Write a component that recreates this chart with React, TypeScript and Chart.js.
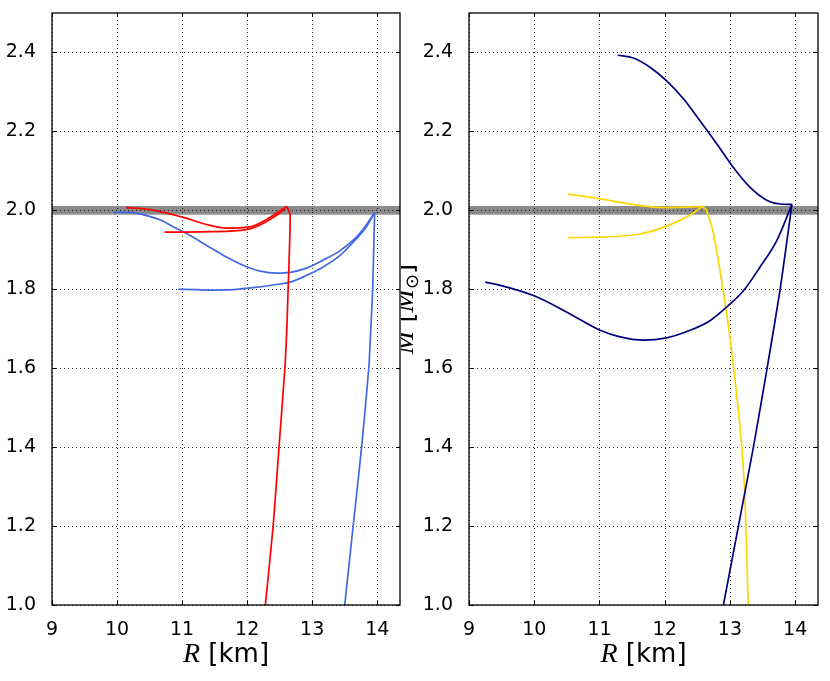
import React, { useEffect, useRef } from "react";
import { Chart, registerables } from "chart.js";

Chart.register(...registerables);

// ---------- data ----------
const xTicks = [9, 10, 11, 12, 13, 14];
const yTicks = [1.0, 1.2, 1.4, 1.6, 1.8, 2.0, 2.2, 2.4];
const xRange = [9, 14.35];
const yRange = [1.0, 2.5];
const band = [1.989, 2.011];

// left panel
const redUpperR = [12.61, 12.5, 12.3, 12.04, 11.68, 11.43, 11.02, 10.51, 10.14];
const redUpperM = [2.01, 1.998, 1.977, 1.958, 1.955, 1.962, 1.982, 2.002, 2.007];
const redLowerR = [12.61, 12.53, 12.3, 12.04, 11.79, 11.48, 11.07, 10.73];
const redLowerM = [2.01, 1.997, 1.972, 1.953, 1.948, 1.946, 1.945, 1.945];
const redStemR = [12.61, 12.66, 12.65, 12.63, 12.61, 12.58, 12.49, 12.4, 12.28];
const redStemM = [2.01, 1.99, 1.9, 1.8, 1.7, 1.6, 1.4, 1.2, 1.0];

const blueUpperR = [13.96, 13.82, 13.68, 13.43, 13.12, 12.9, 12.66, 12.45, 12.2, 11.99, 11.69, 11.38, 11.07, 10.87, 10.66, 10.35, 10.2, 9.94];
const blueUpperM = [1.995, 1.96, 1.932, 1.898, 1.87, 1.853, 1.843, 1.841, 1.846, 1.857, 1.881, 1.911, 1.941, 1.958, 1.976, 1.991, 1.995, 1.995];
const blueLowerR = [13.96, 13.82, 13.68, 13.43, 13.12, 12.9, 12.66, 12.45, 12.09, 11.79, 11.48, 11.22, 10.94];
const blueLowerM = [1.995, 1.955, 1.928, 1.886, 1.852, 1.834, 1.818, 1.812, 1.804, 1.799, 1.798, 1.799, 1.8];
const blueStemR = [13.96, 13.93, 13.9, 13.87, 13.76, 13.63, 13.5];
const blueStemM = [1.995, 1.8, 1.696, 1.6, 1.4, 1.2, 1.0];

// right panel
const navyUpperR = [13.95, 13.77, 13.57, 13.31, 13.05, 12.8, 12.54, 12.29, 12.03, 11.78, 11.52, 11.28];
const navyUpperM = [2.015, 2.016, 2.025, 2.058, 2.109, 2.168, 2.227, 2.282, 2.328, 2.362, 2.386, 2.393];
const navyLowerR = [13.95, 13.72, 13.46, 13.21, 12.95, 12.7, 12.39, 12.03, 11.67, 11.3, 11.01, 10.5, 9.99, 9.48, 9.25];
const navyLowerM = [2.015, 1.924, 1.856, 1.797, 1.755, 1.721, 1.696, 1.677, 1.671, 1.68, 1.696, 1.742, 1.784, 1.81, 1.818];
const navyStemR = [13.95, 13.77, 13.57, 13.36, 13.13, 12.9];
const navyStemM = [2.015, 1.8, 1.6, 1.4, 1.2, 1.0];

const goldUpperR = [12.58, 12.34, 12.03, 11.62, 11.01, 10.52];
const goldUpperM = [2.01, 2.008, 2.007, 2.012, 2.029, 2.041];
const goldLowerR = [12.58, 12.39, 12.03, 11.62, 11.01, 10.52];
const goldLowerM = [2.01, 1.988, 1.96, 1.94, 1.932, 1.931];
const goldStemR = [12.58, 12.64, 12.75, 12.88, 12.98, 13.05, 13.16, 13.23, 13.28];
const goldStemM = [2.01, 2.0, 1.94, 1.814, 1.704, 1.611, 1.443, 1.274, 1.0];

// ---------- helpers ----------
const pts = (xs: number[], ys: number[]) => xs.map((x, i) => ({ x, y: ys[i] }));

const SANS = '26px "DejaVu Sans"';
const MATH = 'italic 28px "Liberation Serif"';

type Run = { t: string; f: string; dy?: number };

function drawRuns(ctx: CanvasRenderingContext2D, runs: Run[], cx: number, baseline: number) {
  let total = 0;
  const widths = runs.map((r) => {
    ctx.font = r.f;
    const w = ctx.measureText(r.t).width;
    total += w;
    return w;
  });
  let x = cx - total / 2;
  ctx.textBaseline = "alphabetic";
  ctx.textAlign = "left";
  ctx.fillStyle = "#000";
  runs.forEach((r, i) => {
    ctx.font = r.f;
    ctx.fillText(r.t, x, baseline + (r.dy || 0));
    x += widths[i];
  });
}

function makeFrame(withYLabel: boolean) {
  return {
    id: "frame" + (withYLabel ? "R" : "L"),
    beforeDatasetsDraw(chart: any) {
      const { ctx, chartArea: a, scales } = chart;
      const xs = scales.x;
      const ys = scales.y;
      ctx.save();
      // band
      const y1 = ys.getPixelForValue(band[1]);
      const y0 = ys.getPixelForValue(band[0]);
      ctx.fillStyle = "rgba(110,110,110,0.8)";
      ctx.fillRect(a.left, y1, a.right - a.left, y0 - y1);
      // grid
      ctx.strokeStyle = "rgba(0,0,0,0.8)";
      ctx.lineWidth = 1;
      ctx.setLineDash([1, 3]);
      xTicks.forEach((v) => {
        const px = Math.round(xs.getPixelForValue(v)) + 0.5;
        ctx.beginPath();
        ctx.moveTo(px, a.bottom);
        ctx.lineTo(px, a.top);
        ctx.stroke();
      });
      yTicks.forEach((v) => {
        const py = Math.round(ys.getPixelForValue(v)) + 0.5;
        ctx.beginPath();
        ctx.moveTo(a.left, py);
        ctx.lineTo(a.right, py);
        ctx.stroke();
      });
      ctx.restore();
    },
    afterDraw(chart: any) {
      const { ctx, chartArea: a, scales } = chart;
      const xs = scales.x;
      const ys = scales.y;
      ctx.save();
      ctx.setLineDash([]);
      ctx.strokeStyle = "#000";
      ctx.lineWidth = 1.3;
      ctx.strokeRect(a.left, a.top, a.right - a.left, a.bottom - a.top);
      ctx.lineWidth = 1;
      const tl = 4;
      xTicks.forEach((v) => {
        const px = Math.round(xs.getPixelForValue(v)) + 0.5;
        ctx.beginPath();
        ctx.moveTo(px, a.bottom);
        ctx.lineTo(px, a.bottom - tl);
        ctx.moveTo(px, a.top);
        ctx.lineTo(px, a.top + tl);
        ctx.stroke();
      });
      yTicks.forEach((v) => {
        const py = Math.round(ys.getPixelForValue(v)) + 0.5;
        ctx.beginPath();
        ctx.moveTo(a.left, py);
        ctx.lineTo(a.left + tl, py);
        ctx.moveTo(a.right, py);
        ctx.lineTo(a.right - tl, py);
        ctx.stroke();
      });
      // x label
      drawRuns(ctx, [{ t: "R", f: MATH }, { t: " [km]", f: SANS }], (a.left + a.right) / 2, 662);
      // y label (partly hidden behind left panel)
      if (withYLabel) {
        ctx.save();
        ctx.translate(12, (a.top + a.bottom) / 2);
        ctx.rotate(-Math.PI / 2);
        drawRuns(
          ctx,
          [
            { t: "M", f: MATH },
            { t: " [", f: SANS },
            { t: "M", f: MATH },
            { t: "\u2299", f: '18px "DejaVu Sans"', dy: 5 },
            { t: "]", f: SANS },
          ],
          0,
          0
        );
        ctx.restore();
      }
      ctx.restore();
    },
  };
}

function branch(data: { x: number; y: number }[], color: string) {
  return {
    data,
    borderColor: color,
    backgroundColor: color,
    borderWidth: 1.7,
    pointRadius: 0,
    showLine: true,
    fill: false,
    cubicInterpolationMode: "monotone",
  };
}

function stem(data: { x: number; y: number }[], color: string) {
  return {
    data,
    borderColor: color,
    backgroundColor: color,
    borderWidth: 1.7,
    pointRadius: 0,
    showLine: true,
    fill: false,
    tension: 0.2,
  };
}

function makeConfig(datasets: any[], yWidth: number, rightPad: number, withYLabel: boolean): any {
  const tickFont = { family: "DejaVu Sans", size: 19 };
  return {
    type: "scatter",
    data: { datasets },
    plugins: [makeFrame(withYLabel)],
    options: {
      animation: false,
      responsive: false,
      events: [],
      layout: { padding: { top: 13, right: rightPad, left: 0, bottom: 0 } },
      plugins: { legend: { display: false }, tooltip: { enabled: false } },
      scales: {
        x: {
          type: "linear",
          min: xRange[0],
          max: xRange[1],
          grid: { display: false },
          border: { display: false },
          afterBuildTicks: (s: any) => {
            s.ticks = xTicks.map((v) => ({ value: v }));
          },
          afterFit: (s: any) => {
            s.height = 76;
            s.paddingLeft = 0;
            s.paddingRight = 0;
          },
          ticks: {
            autoSkip: false,
            maxRotation: 0,
            padding: 6,
            color: "#000",
            font: tickFont,
            callback: (v: any) => String(v),
          },
        },
        y: {
          type: "linear",
          min: yRange[0],
          max: yRange[1],
          grid: { display: false },
          border: { display: false },
          afterBuildTicks: (s: any) => {
            s.ticks = yTicks.map((v) => ({ value: v }));
          },
          afterFit: (s: any) => {
            s.width = yWidth;
            s.paddingTop = 0;
            s.paddingBottom = 0;
          },
          ticks: {
            autoSkip: false,
            padding: 8,
            color: "#000",
            font: tickFont,
            callback: (v: any) => Number(v).toFixed(1),
          },
        },
      },
    },
  };
}

export default function App() {
  const leftRef = useRef<HTMLCanvasElement>(null);
  const rightRef = useRef<HTMLCanvasElement>(null);

  useEffect(() => {
    const left = new Chart(
      leftRef.current as HTMLCanvasElement,
      makeConfig(
        [
          branch(pts(redUpperR, redUpperM), "#ff0000"),
          branch(pts(redLowerR, redLowerM), "#ff0000"),
          stem(pts(redStemR, redStemM), "#ff0000"),
          branch(pts(blueUpperR, blueUpperM), "#4169e1"),
          branch(pts(blueLowerR, blueLowerM), "#4169e1"),
          stem(pts(blueStemR, blueStemM), "#4169e1"),
        ],
        52,
        1,
        false
      )
    );
    const right = new Chart(
      rightRef.current as HTMLCanvasElement,
      makeConfig(
        [
          branch(pts(navyUpperR, navyUpperM), "#000080"),
          branch(pts(navyLowerR, navyLowerM), "#000080"),
          stem(pts(navyStemR, navyStemM), "#000080"),
          branch(pts(goldUpperR, goldUpperM), "#ffd700"),
          branch(pts(goldLowerR, goldLowerM), "#ffd700"),
          stem(pts(goldStemR, goldStemM), "#ffd700"),
        ],
        68,
        12,
        true
      )
    );
    return () => {
      left.destroy();
      right.destroy();
    };
  }, []);

  return (
    <div style={{ position: "absolute", left: 0, top: 0, width: 830, height: 681, background: "#fff" }}>
      <canvas
        ref={rightRef}
        width={429}
        height={681}
        style={{ position: "absolute", left: 401, top: 0, width: 429, height: 681 }}
      />
      <canvas
        ref={leftRef}
        width={401}
        height={681}
        style={{ position: "absolute", left: 0, top: 0, width: 401, height: 681 }}
      />
    </div>
  );
}
